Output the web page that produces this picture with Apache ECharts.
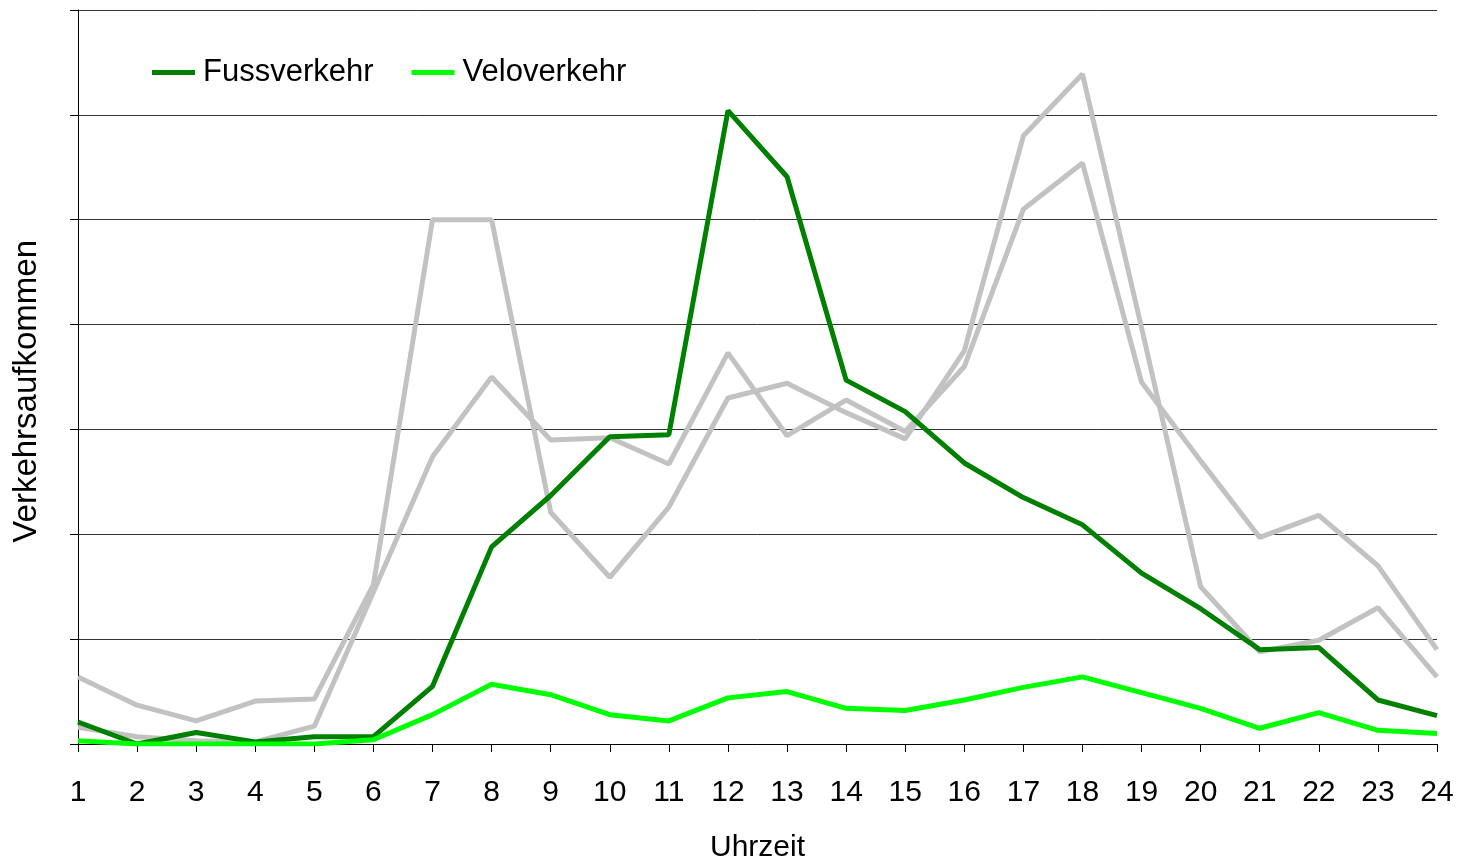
<!DOCTYPE html>
<html>
<head>
<meta charset="utf-8">
<script src="https://cdn.jsdelivr.net/npm/echarts@6/dist/echarts.min.js"></script>
<style>
html,body{margin:0;padding:0;background:#fff;}
#chart{width:1460px;height:861px;}
</style>
</head>
<body>
<div id="chart"></div>
<script>
// Uhrzeit 1..24
var hours = ['1','2','3','4','5','6','7','8','9','10','11','12','13','14','15','16','17','18','19','20','21','22','23','24'];
var fuss = [0.21,0,0.11,0.02,0.07,0.07,0.55,1.88,2.37,2.93,2.95,6.04,5.41,3.47,3.17,2.68,2.35,2.09,1.63,1.29,0.90,0.92,0.42,0.27];
var velo = [0.03,0,0,0,0,0.04,0.28,0.57,0.47,0.28,0.22,0.44,0.50,0.34,0.32,0.42,0.54,0.64,0.49,0.34,0.15,0.30,0.13,0.10];
// graue Vergleichslinien
var grauA = [0.64,0.37,0.22,0.41,0.43,1.52,5.0,5.0,2.21,1.59,2.26,3.30,3.44,3.16,2.91,3.75,5.80,6.39,3.97,1.50,0.88,0.99,1.30,0.64];
var grauB = [0.16,0.07,0.03,0.02,0.17,1.45,2.74,3.50,2.90,2.92,2.67,3.73,2.94,3.28,2.98,3.60,5.10,5.54,3.45,2.70,1.97,2.18,1.70,0.90];

var myChart = echarts.init(document.getElementById('chart'));
var font = 'Liberation Sans, Arial, sans-serif';

function grau(name, data){
	return {
		name: name,
		type: 'line',
		data: data,
		symbol: 'none',
		silent: true,
		lineStyle: {color: '#c2c2c2', width: 5},
		z: 2
	};
}

option = {
	animation: false,
	backgroundColor: '#fff',
	grid: {left: 78, right: 23, top: 10, bottom: 117, outerBoundsMode: 'none', containLabel: false},
	legend: {
		data: ['Fussverkehr', 'Veloverkehr'],
		left: 147,
		top: 52,
		icon: 'rect',
		itemWidth: 43,
		itemHeight: 5,
		itemGap: 38,
		textStyle: {fontFamily: font, fontSize: 31, color: '#000', padding: [0, 0, 0, 3]}
	},
	xAxis: {
		type: 'category',
		data: hours,
		boundaryGap: false,
		name: 'Uhrzeit',
		nameLocation: 'middle',
		nameGap: 89,
		nameTextStyle: {fontFamily: font, fontSize: 30, color: '#000'},
		axisLine: {lineStyle: {color: '#000', width: 1}},
		axisTick: {show: true, length: 8, lineStyle: {color: '#000'}},
		axisLabel: {fontFamily: font, fontSize: 30, color: '#000', margin: 34, interval: 0},
		splitLine: {show: false}
	},
	yAxis: {
		type: 'value',
		min: 0,
		max: 7,
		interval: 1,
		axisLine: {show: true, lineStyle: {color: '#000', width: 1}},
		axisTick: {show: true, inside: false, length: 8, lineStyle: {color: '#000'}},
		axisLabel: {show: false},
		splitLine: {lineStyle: {color: '#333', width: 1}}
	},
	graphic: [{
		type: 'text',
		left: 10,
		top: 240,
		rotation: Math.PI / 2,
		style: {text: 'Verkehrsaufkommen', fontFamily: font, fontSize: 33, fill: '#000'}
	}],
	series: [
		grau('A', grauA),
		grau('B', grauB),
		{
			name: 'Fussverkehr',
			type: 'line',
			data: fuss,
			symbol: 'none',
			lineStyle: {color: '#008000', width: 5},
			itemStyle: {color: '#008000'},
			z: 3
		},
		{
			name: 'Veloverkehr',
			type: 'line',
			data: velo,
			symbol: 'none',
			lineStyle: {color: '#00ff00', width: 5},
			itemStyle: {color: '#00ff00'},
			z: 3
		}
	]
};
myChart.setOption(option);
</script>
</body>
</html>
